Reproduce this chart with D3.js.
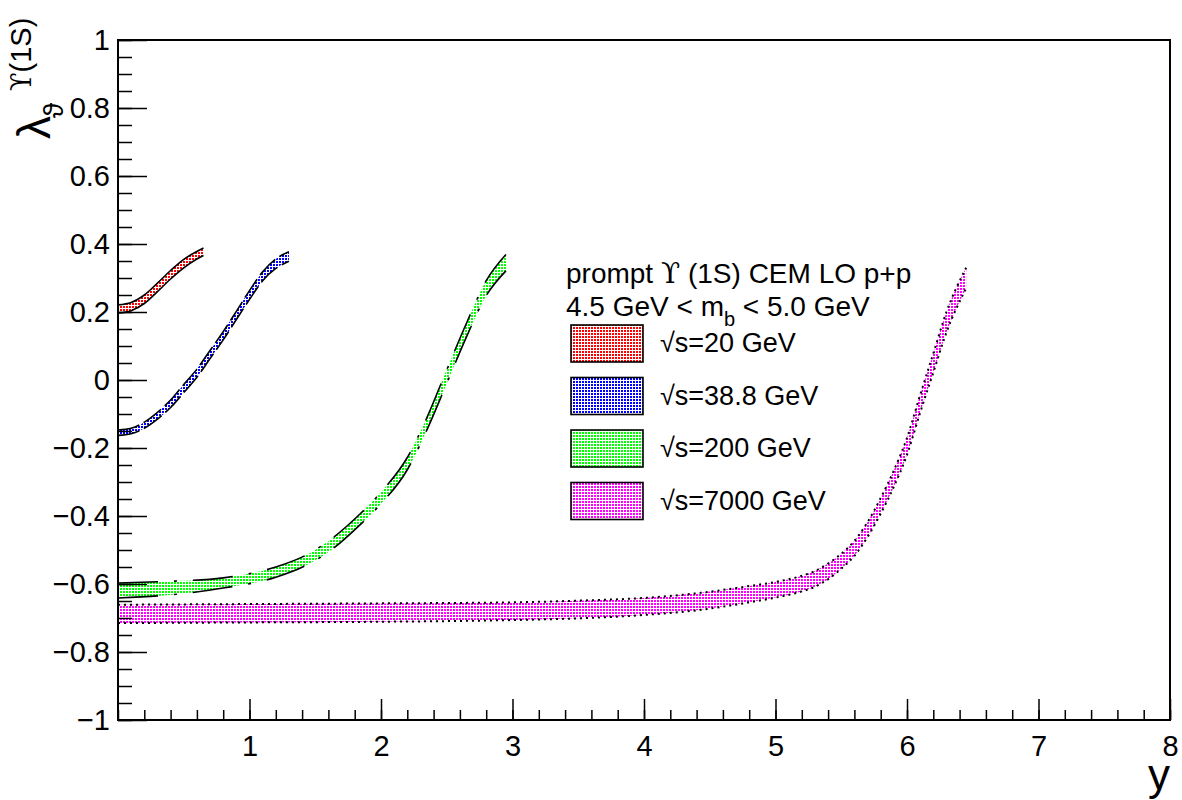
<!DOCTYPE html>
<html>
<head>
<meta charset="utf-8">
<script src="https://cdn.jsdelivr.net/npm/d3@7"></script>
<style>
  body { margin: 0; background: #fff; }
  svg { display: block; }
  text { font-family: "Liberation Sans", Arial, Helvetica, sans-serif; fill: #000; }
</style>
</head>
<body>
<svg id="chart" width="1182" height="800"></svg>
<script>
// ---------------- data ----------------
const rap20  = [0, 0.1, 0.2, 0.3, 0.4, 0.5, 0.6, 0.65];
const hi20   = [0.221, 0.228, 0.25, 0.285, 0.322, 0.355, 0.378, 0.388];
const lo20   = [0.197, 0.204, 0.225, 0.26, 0.297, 0.33, 0.356, 0.366];

const rap38  = [0, 0.1, 0.2, 0.3, 0.4, 0.5, 0.6, 0.7, 0.8, 0.9, 1.0, 1.1, 1.2, 1.3];
const hi38   = [-0.147, -0.142, -0.124, -0.095, -0.059, -0.013, 0.032, 0.087, 0.142, 0.202, 0.263, 0.318, 0.356, 0.377];
const lo38   = [-0.163, -0.158, -0.142, -0.115, -0.081, -0.037, 0.008, 0.063, 0.118, 0.178, 0.237, 0.292, 0.328, 0.349];

const rap200 = [0, 0.4, 0.8, 1.2, 1.42, 1.6, 1.84, 2.0, 2.2, 2.35, 2.5, 2.65, 2.8, 2.95];
const hi200  = [-0.597, -0.592, -0.582, -0.55, -0.517, -0.474, -0.394, -0.33, -0.228, -0.11, 0.03, 0.167, 0.292, 0.369];
const lo200  = [-0.641, -0.632, -0.612, -0.58, -0.547, -0.506, -0.426, -0.364, -0.264, -0.146, -0.01, 0.127, 0.248, 0.321];

const rap7000 = [0, 1, 2, 3, 3.5, 4, 4.43, 4.8, 5.0, 5.19, 5.3, 5.4, 5.5, 5.6, 5.7, 5.8, 5.9, 6.0, 6.1, 6.2, 6.3, 6.45];
const hi7000  = [-0.661, -0.659, -0.657, -0.654, -0.649, -0.641, -0.626, -0.606, -0.594, -0.577, -0.562, -0.54, -0.511, -0.473, -0.418, -0.347, -0.266, -0.17, -0.044, 0.078, 0.2, 0.33];
const lo7000  = [-0.715, -0.713, -0.711, -0.706, -0.701, -0.691, -0.676, -0.654, -0.64, -0.623, -0.608, -0.586, -0.555, -0.517, -0.462, -0.393, -0.314, -0.22, -0.096, 0.022, 0.14, 0.27];

const seriesLabels = ["=20 GeV", "=38.8 GeV", "=200 GeV", "=7000 GeV"];
const seriesColors = ["#ff0000", "#0000ff", "#00ff00", "#ff00ff"];
const seriesDash   = [null, "22 5", "40 16 3 16", "2 4"];

const xTickLabels = [1, 2, 3, 4, 5, 6, 7, 8];
const yTickLabels = [-1, -0.8, -0.6, -0.4, -0.2, 0, 0.2, 0.4, 0.6, 0.8, 1];

// ---------------- layout ----------------
const svg = d3.select("#chart");
const L = 118, R = 1170, T = 40, B = 720;
const x = d3.scaleLinear().domain([0, 8]).range([L, R]);
const y = d3.scaleLinear().domain([-1, 1]).range([B, T]);

// dotted fill patterns
const defs = svg.append("defs");
seriesColors.forEach((c, i) => {
  const p = defs.append("pattern").attr("id", "pat" + i)
    .attr("patternUnits", "userSpaceOnUse").attr("width", 3).attr("height", 3);
  p.append("rect").attr("x", 0).attr("y", 0).attr("width", 2).attr("height", 2).attr("fill", c);
});

const series = [
  {rap: rap20,  hi: hi20,  lo: lo20},
  {rap: rap38,  hi: hi38,  lo: lo38},
  {rap: rap200, hi: hi200, lo: lo200},
  {rap: rap7000, hi: hi7000, lo: lo7000}
];

const clip = defs.append("clipPath").attr("id", "frameClip");
clip.append("rect").attr("x", L).attr("y", T).attr("width", R - L).attr("height", B - T);

const plot = svg.append("g").attr("clip-path", "url(#frameClip)");

series.forEach((s, i) => {
  const pts = s.rap.map((r, k) => ({r: r, hi: s.hi[k], lo: s.lo[k]}));
  const area = d3.area().curve(d3.curveMonotoneX)
    .x(d => x(d.r)).y0(d => y(d.lo)).y1(d => y(d.hi));
  plot.append("path").attr("d", area(pts)).attr("fill", "url(#pat" + i + ")").attr("stroke", "none");
  ["hi", "lo"].forEach(key => {
    const line = d3.line().curve(d3.curveMonotoneX).x(d => x(d.r)).y(d => y(d[key]));
    const p = plot.append("path").attr("d", line(pts)).attr("fill", "none")
      .attr("stroke", "#000").attr("stroke-width", i === 3 ? 2 : 1.6);
    if (seriesDash[i]) p.attr("stroke-dasharray", seriesDash[i]);
  });
});

// ---------------- axes ----------------
const fmt = v => (v < 0 ? "\u2212" : "") + String(Math.abs(v));
const sans = "Liberation Sans, Arial, sans-serif";

const yMinor = d3.range(-1, 1.0001, 0.05).map(v => +v.toFixed(2));
svg.append("g").attr("transform", `translate(${L},0)`)
  .call(d3.axisLeft(y).tickValues(yMinor).tickSize(-14).tickFormat(""))
  .call(g => g.select(".domain").remove())
  .call(g => g.selectAll("line").attr("stroke-width", 1.5));
svg.append("g").attr("transform", `translate(${L},0)`)
  .call(d3.axisLeft(y).tickValues(yTickLabels).tickSize(-29).tickPadding(8).tickFormat(fmt))
  .call(g => g.select(".domain").remove())
  .call(g => g.selectAll("line").attr("stroke-width", 1.5))
  .call(g => g.selectAll("text").attr("font-size", 29).attr("font-family", sans));

const xMinor = d3.range(0, 8.0001, 0.2).map(v => +v.toFixed(1));
svg.append("g").attr("transform", `translate(0,${B})`)
  .call(d3.axisBottom(x).tickValues(xMinor).tickSize(-10).tickFormat(""))
  .call(g => g.select(".domain").remove())
  .call(g => g.selectAll("line").attr("stroke-width", 1.5));
svg.append("g").attr("transform", `translate(0,${B})`)
  .call(d3.axisBottom(x).tickValues(xTickLabels).tickSize(-21).tickPadding(15).tickFormat(d => d))
  .call(g => g.select(".domain").remove())
  .call(g => g.selectAll("line").attr("stroke-width", 1.5))
  .call(g => g.selectAll("text").attr("font-size", 29).attr("font-family", sans));

// frame
svg.append("rect").attr("x", L).attr("y", T).attr("width", R - L).attr("height", B - T)
  .attr("fill", "none").attr("stroke", "#000").attr("stroke-width", 2);

// axis titles
svg.append("text").attr("x", R).attr("y", 790).attr("text-anchor", "end")
  .attr("font-size", 44).text("y");

const serif = "Liberation Serif, DejaVu Serif, serif";
svg.append("text").attr("transform", "translate(50,139) rotate(-90)")
  .attr("font-size", 46).attr("font-family", serif).text("\u03BB");
svg.append("text").attr("transform", "translate(63,118) rotate(-90)")
  .attr("font-size", 28).attr("font-family", "DejaVu Serif, serif").text("\u03D1");
svg.append("text").attr("transform", "translate(31,91) rotate(-90)")
  .attr("font-size", 29).attr("font-family", sans)
  .call(t => {
    t.append("tspan").attr("font-family", "DejaVu Serif, serif").attr("font-size", 27).text("\u03D2");
    t.append("tspan").text("(1S)");
  });

// ---------------- legend ----------------
const hdr = svg.append("text").attr("x", 566).attr("y", 283).attr("font-size", 28);
hdr.append("tspan").text("prompt ");
hdr.append("tspan").attr("font-family", "DejaVu Serif, serif").text("\u03D2");
hdr.append("tspan").text(" (1S) CEM LO p+p");

const hdr2 = svg.append("text").attr("x", 566).attr("y", 316).attr("font-size", 28);
hdr2.append("tspan").text("4.5 GeV < m");
hdr2.append("tspan").attr("font-size", 20).attr("dy", 10).text("b");
hdr2.append("tspan").attr("dy", -10).text(" < 5.0 GeV");

const legY = [325, 377.5, 430, 482.5];
seriesLabels.forEach((lab, i) => {
  svg.append("rect").attr("x", 571).attr("y", legY[i]).attr("width", 72).attr("height", 37)
    .attr("fill", "url(#pat" + i + ")").attr("stroke", "#000").attr("stroke-width", 1.6);
  const t = svg.append("text").attr("x", 660).attr("y", legY[i] + 27).attr("font-size", 27);
  t.append("tspan").text("\u221A");
  t.append("tspan").text("s" + lab);
});
</script>
</body>
</html>
